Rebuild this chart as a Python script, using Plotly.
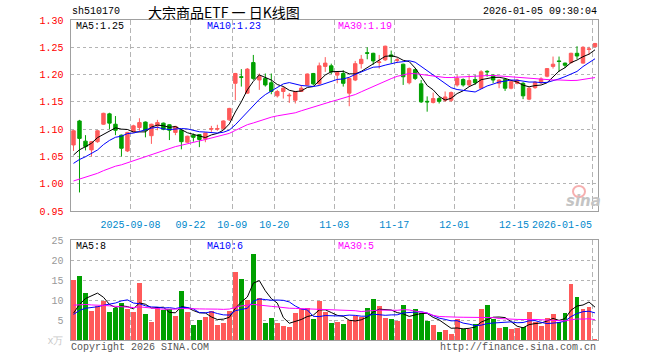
import plotly.graph_objects as go

# ---------------- data ----------------
tick_idx = [10, 20, 27, 34, 44, 54, 64, 74, 87]
tick_labels = ["2025-09-08", "09-22", "10-09", "10-20", "11-03", "11-17", "12-01", "12-15", "2026-01-05"]

open_ = [1.071, 1.115, 1.078, 1.062, 1.077, 1.109, 1.128, 1.109, 1.089, 1.060,
         1.095, 1.103, 1.113, 1.088, 1.106, 1.111, 1.108, 1.094, 1.098, 1.076,
         1.089, 1.090, 1.082, 1.100, 1.100, 1.101, 1.117, 1.184, 1.196, 1.166,
         1.222, 1.190, 1.193, 1.185, 1.161, 1.169, 1.161, 1.153, 1.169, 1.181,
         1.202, 1.183, 1.215, 1.216, 1.199, 1.202, 1.166, 1.190, 1.220, 1.240,
         1.239, 1.222, 1.227, 1.236, 1.226, 1.219, 1.185, 1.209, 1.183, 1.151,
         1.149, 1.156, 1.153, 1.153, 1.181, 1.191, 1.181, 1.191, 1.175, 1.206,
         1.199, 1.184, 1.191, 1.175, 1.184, 1.184, 1.155, 1.176, 1.185, 1.197,
         1.215, 1.225, 1.221, 1.222, 1.239, 1.221, 1.246, 1.251]
high = [1.098, 1.117, 1.089, 1.078, 1.098, 1.130, 1.130, 1.124, 1.090, 1.095,
        1.108, 1.120, 1.114, 1.110, 1.117, 1.112, 1.109, 1.106, 1.099, 1.088,
        1.092, 1.091, 1.094, 1.106, 1.108, 1.116, 1.139, 1.203, 1.210, 1.212,
        1.236, 1.202, 1.202, 1.202, 1.172, 1.178, 1.166, 1.170, 1.181, 1.202,
        1.203, 1.222, 1.232, 1.220, 1.206, 1.208, 1.194, 1.225, 1.236, 1.250,
        1.240, 1.236, 1.253, 1.244, 1.231, 1.220, 1.213, 1.211, 1.190, 1.160,
        1.167, 1.160, 1.169, 1.169, 1.199, 1.193, 1.199, 1.199, 1.208, 1.208,
        1.200, 1.191, 1.193, 1.189, 1.192, 1.186, 1.177, 1.188, 1.195, 1.212,
        1.233, 1.233, 1.222, 1.240, 1.252, 1.252, 1.251, 1.258]
low = [1.060, 0.984, 1.061, 1.050, 1.075, 1.108, 1.100, 1.089, 1.050, 1.058,
       1.094, 1.097, 1.085, 1.073, 1.098, 1.098, 1.080, 1.089, 1.063, 1.075,
       1.077, 1.067, 1.076, 1.095, 1.097, 1.099, 1.115, 1.153, 1.178, 1.165,
       1.190, 1.172, 1.178, 1.164, 1.158, 1.156, 1.148, 1.147, 1.168, 1.180,
       1.180, 1.181, 1.205, 1.201, 1.184, 1.178, 1.142, 1.188, 1.211, 1.228,
       1.218, 1.211, 1.225, 1.221, 1.221, 1.181, 1.182, 1.190, 1.148, 1.132,
       1.147, 1.147, 1.150, 1.150, 1.178, 1.178, 1.178, 1.181, 1.174, 1.196,
       1.184, 1.175, 1.170, 1.173, 1.182, 1.155, 1.153, 1.174, 1.183, 1.195,
       1.211, 1.205, 1.212, 1.220, 1.228, 1.220, 1.236, 1.250]
close = [1.097, 1.083, 1.068, 1.077, 1.097, 1.129, 1.111, 1.098, 1.065, 1.094,
         1.106, 1.112, 1.098, 1.109, 1.112, 1.100, 1.098, 1.105, 1.077, 1.087,
         1.085, 1.081, 1.093, 1.101, 1.101, 1.115, 1.138, 1.202, 1.195, 1.210,
         1.193, 1.197, 1.181, 1.169, 1.169, 1.175, 1.162, 1.169, 1.175, 1.201,
         1.183, 1.216, 1.221, 1.205, 1.204, 1.184, 1.193, 1.220, 1.228, 1.239,
         1.225, 1.223, 1.252, 1.233, 1.227, 1.196, 1.211, 1.193, 1.150, 1.150,
         1.156, 1.151, 1.159, 1.167, 1.193, 1.181, 1.189, 1.185, 1.205, 1.205,
         1.190, 1.190, 1.175, 1.187, 1.190, 1.161, 1.175, 1.186, 1.192, 1.211,
         1.219, 1.224, 1.217, 1.239, 1.234, 1.250, 1.247, 1.257]
volume = [15.0, 16.0, 11.8, 7.3, 8.5, 9.8, 7.0, 8.1, 9.2, 7.7,
          7.0, 14.3, 6.5, 4.5, 8.2, 7.5, 7.8, 6.0, 12.25, 7.0,
          3.75, 5.0, 5.8, 7.3, 3.75, 4.2, 7.3, 17.0, 15.25, 10.0,
          21.5, 10.5, 4.3, 5.5, 4.3, 3.5, 3.3, 6.8, 7.7, 8.0,
          5.25, 9.8, 7.0, 4.3, 4.5, 4.0, 4.9, 6.1, 5.7, 8.0,
          10.25, 8.5, 5.5, 5.25, 4.75, 8.75, 5.25, 7.75, 6.7, 4.8,
          3.75, 2.1, 2.5, 1.5, 5.2, 2.7, 2.7, 4.0, 7.75, 8.75,
          5.25, 3.0, 3.25, 2.75, 3.0, 3.25, 7.0, 4.5, 3.5, 5.5,
          6.5, 4.5, 6.75, 14.0, 10.75, 7.75, 8.25, 0.25]

# sessions before the first visible day (estimated from where the MA lines start)
prev_close = [0.975, 0.978, 0.972, 0.980, 0.983, 0.978, 0.985, 0.988, 0.982, 0.990,
              0.992, 0.988, 0.995, 0.993, 0.998, 0.996, 1.000, 1.002, 0.998, 1.005,
              1.012, 1.018, 1.022, 1.028, 1.030, 1.035, 1.040, 1.045, 1.046]
prev_volume = [12, 10, 11, 13, 9, 10, 12, 11, 10, 12, 9, 11, 12, 10, 11.4,
               7, 6.5, 7, 6.4, 6.5, 6, 6.5, 5.5, 6.5, 6, 5, 4.5, 4, 5]

price_ticks = [0.95, 1.00, 1.05, 1.10, 1.15, 1.20, 1.25, 1.30]
volume_ticks = [0, 5, 10, 15, 20, 25]
ma_periods = [5, 10, 30]

# ---------------- styling ----------------
RED = "#ff5a5a"
GREEN = "#00a000"
MA_COLORS = {5: "#000000", 10: "#0000ff", 30: "#ff00ff"}
BORDER = "#a0a0a0"
GRID = "#b4b4b4"
MONO = "Liberation Mono, DejaVu Sans Mono, monospace"
CJK = "Noto Sans CJK SC"
W, H = 660, 360


def sma(prev, vals, n):
    allv = list(prev) + list(vals)
    k0 = len(prev)
    return [sum(allv[k0 + i - n + 1:k0 + i + 1]) / n for i in range(len(vals))]


idx = list(range(len(close)))
px = lambda x: x / W
py = lambda y: 1 - y / H

fig = go.Figure()

fig.add_trace(go.Candlestick(
    x=idx, open=open_, high=high, low=low, close=close,
    increasing=dict(line=dict(color=RED, width=1), fillcolor=RED),
    decreasing=dict(line=dict(color=GREEN, width=1), fillcolor=GREEN),
    whiskerwidth=0, xaxis="x", yaxis="y", hoverinfo="skip", showlegend=False))

price_ma = {n: sma(prev_close, close, n) for n in ma_periods}
vol_ma = {n: sma(prev_volume, volume, n) for n in ma_periods}
for n in ma_periods:
    fig.add_trace(go.Scatter(x=idx, y=price_ma[n], mode="lines",
                             line=dict(color=MA_COLORS[n], width=1),
                             xaxis="x", yaxis="y", showlegend=False, hoverinfo="skip"))

bar_colors = [RED if c >= o else GREEN for o, c in zip(open_, close)]
fig.add_trace(go.Bar(x=idx, y=volume, marker=dict(color=bar_colors, line=dict(width=0)),
                     width=0.82, xaxis="x2", yaxis="y2", showlegend=False, hoverinfo="skip"))
for n in ma_periods:
    fig.add_trace(go.Scatter(x=idx, y=vol_ma[n], mode="lines",
                             line=dict(color=MA_COLORS[n], width=1),
                             xaxis="x2", yaxis="y2", showlegend=False, hoverinfo="skip"))

x_dom = [px(70.5), px(598)]
tickvals_x = [i - 0.5 for i in tick_idx]
ticktext_x = list(tick_labels)
ticktext_x[-1] = tick_labels[-1] + "\u00a0" * len(tick_labels[-1])

common_x = dict(range=[-0.5, len(close) - 0.5], tickvals=tickvals_x, showgrid=True,
                gridcolor=GRID, griddash="5px,3px", gridwidth=1, zeroline=False,
                showline=True, linecolor=BORDER, linewidth=1, mirror=True, ticks="",
                fixedrange=True, automargin=False, tickangle=0)
common_y = dict(showgrid=True, gridcolor=GRID, griddash="dot", gridwidth=1, zeroline=False,
                showline=True, linecolor=BORDER, linewidth=1, mirror=True, ticks="",
                ticklabelstandoff=4, fixedrange=True, automargin=False)

fig.update_layout(
    width=W, height=H, margin=dict(l=0, r=0, t=0, b=0, autoexpand=False),
    paper_bgcolor="white", plot_bgcolor="white", boxgap=0.18,
    xaxis=dict(domain=x_dom, anchor="y", ticktext=ticktext_x, showticklabels=True,
               tickfont=dict(family=MONO, size=10, color="#0088cc"),
               ticklabelstandoff=4, rangeslider=dict(visible=False), **common_x),
    yaxis=dict(domain=[py(211), py(20)], range=[0.95, 1.30], tickvals=price_ticks,
               ticktext=[f"{v:.2f}" for v in price_ticks],
               tickfont=dict(family=MONO, size=10, color="#ff0000"),
               anchor="x", **common_y),
    xaxis2=dict(domain=x_dom, anchor="y2", showticklabels=False, **common_x),
    yaxis2=dict(domain=[py(340), py(240)], range=[0, 25], tickvals=volume_ticks,
                ticktext=["<span style='color:#c8c8c8'>x万</span>"] + [str(v) for v in volume_ticks[1:]],
                tickfont=dict(family=MONO, size=10, color="#999999"),
                anchor="x2", **common_y),
    bargap=0,
)

ann = []
def text(x, y, s, color="#000000", size=10, family=MONO, xanchor="left"):
    ann.append(dict(x=px(x), y=py(y), xref="paper", yref="paper", text=s, showarrow=False,
                    xanchor=xanchor, yanchor="middle", font=dict(family=family, size=size, color=color)))

text(70, 12, "sh510170")
text(224, 12, "大宗商品ETF\u00a0一\u00a0日K线图", size=14, family=CJK, xanchor="center")
text(599, 12, "2026-01-05 09:30:04", xanchor="right")
text(74, 26.5, f"MA5:{price_ma[5][-1]:.2f}", MA_COLORS[5])
text(205, 26.5, f"MA10:{price_ma[10][-1]:.2f}", MA_COLORS[10])
text(336, 26.5, f"MA30:{price_ma[30][-1]:.2f}", MA_COLORS[30])
text(74, 246.5, f"MA5:{int(vol_ma[5][-1])}", MA_COLORS[5])
text(205, 246.5, f"MA10:{int(vol_ma[10][-1])}", MA_COLORS[10])
text(336, 246.5, f"MA30:{int(vol_ma[30][-1])}", MA_COLORS[30])
text(69, 347, "Copyright 2026 SINA.COM", "#555555")
text(598, 347, "http://finance.sina.com.cn", "#555555", xanchor="right")
# sina watermark
ann.append(dict(x=px(583), y=py(201), xref="paper", yref="paper", text="<b><i>sina</i></b>",
                showarrow=False, xanchor="center", yanchor="middle",
                font=dict(family="DejaVu Sans", size=15, color="#c4c4c4")))
fig.update_layout(annotations=ann)
fig.add_shape(type="circle", xref="paper", yref="paper", x0=px(573), x1=px(585), y0=py(197), y1=py(186),
              line=dict(color="#f6b0b0", width=2))

fig.write_html("out.html", config={"displayModeBar": False, "staticPlot": True},
               post_script="document.body.style.margin='0';document.body.style.overflow='hidden';")
